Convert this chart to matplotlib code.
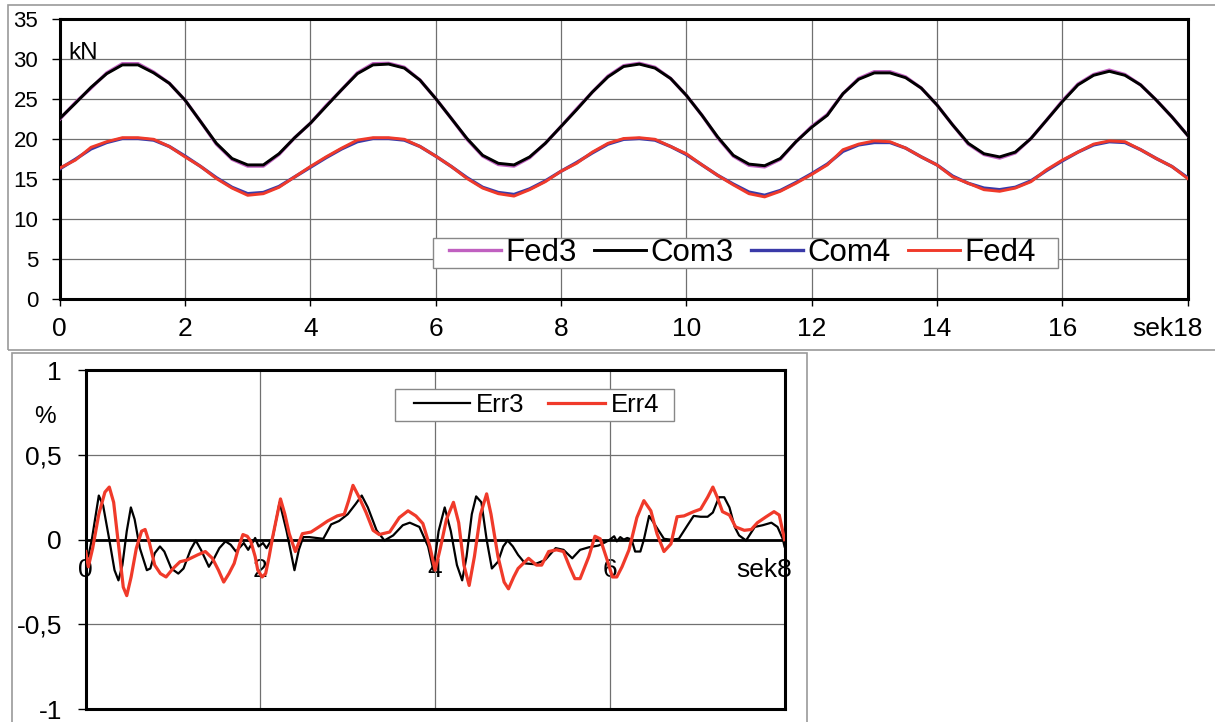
import matplotlib
matplotlib.use("Agg")
import matplotlib.pyplot as plt
from matplotlib.patches import Rectangle
from matplotlib.transforms import ScaledTranslation

plt.rcParams['font.family'] = ['Liberation Sans', 'DejaVu Sans']

# ---------------- data: top chart (kN vs s) ----------------
t_top = [i * 0.25 for i in range(73)]
com3 = [22.6, 24.5, 26.5, 28.2, 29.3, 29.3, 28.3, 27.0, 24.9, 22.2, 19.5, 17.6, 16.8, 16.8,
        18.2, 20.2, 22.0, 24.1, 26.2, 28.2, 29.3, 29.4, 28.9, 27.4, 25.1, 22.6, 20.1, 18.0,
        17.0, 16.8, 17.8, 19.5, 21.6, 23.7, 25.9, 27.8, 29.1, 29.4, 28.9, 27.6, 25.5, 23.0,
        20.3, 18.0, 16.9, 16.7, 17.6, 19.7, 21.5, 23.0, 25.7, 27.5, 28.3, 28.3, 27.7, 26.4,
        24.3, 21.8, 19.5, 18.2, 17.8, 18.4, 20.1, 22.4, 24.7, 26.8, 28.0, 28.5, 28.0, 26.8,
        24.9, 22.8, 20.5]
fed3 = [22.5, 24.6, 26.4, 28.3, 29.45, 29.45, 28.4, 27.0, 24.9, 22.2, 19.4, 17.5, 16.65, 16.65,
        18.1, 20.2, 22.0, 24.2, 26.2, 28.3, 29.45, 29.5, 29.0, 27.4, 25.1, 22.6, 20.0, 17.9,
        16.85, 16.65, 17.7, 19.5, 21.6, 23.8, 25.9, 27.9, 29.2, 29.5, 29.0, 27.6, 25.5, 23.0,
        20.2, 17.9, 16.75, 16.55, 17.5, 19.7, 21.6, 23.1, 25.7, 27.6, 28.45, 28.45, 27.8, 26.4,
        24.3, 21.8, 19.4, 18.1, 17.65, 18.3, 20.1, 22.4, 24.8, 26.9, 28.1, 28.65, 28.1, 26.8,
        24.9, 22.8, 20.5]
com4 = [16.3, 17.5, 18.8, 19.6, 20.1, 20.1, 19.9, 19.1, 17.9, 16.6, 15.2, 14.0, 13.2, 13.35,
        14.1, 15.3, 16.5, 17.7, 18.8, 19.7, 20.1, 20.1, 19.9, 19.1, 17.9, 16.6, 15.2, 14.0,
        13.35, 13.1, 13.8, 14.8, 16.0, 17.1, 18.3, 19.4, 20.0, 20.1, 19.9, 19.1, 18.1, 16.8,
        15.5, 14.4, 13.4, 13.0, 13.6, 14.6, 15.7, 16.9, 18.5, 19.3, 19.6, 19.6, 18.9, 17.8,
        16.8, 15.4, 14.5, 13.9, 13.7, 14.0, 14.8, 16.1, 17.3, 18.4, 19.3, 19.7, 19.6, 18.7,
        17.6, 16.6, 15.2]
fed4 = [16.4, 17.4, 19.0, 19.7, 20.2, 20.2, 20.0, 19.1, 17.8, 16.6, 15.1, 13.9, 13.0, 13.2,
        14.0, 15.3, 16.6, 17.8, 18.9, 19.9, 20.2, 20.2, 20.0, 19.1, 17.9, 16.6, 15.1, 13.9,
        13.2, 12.9, 13.7, 14.7, 16.0, 17.0, 18.4, 19.5, 20.1, 20.2, 20.0, 19.1, 18.2, 16.8,
        15.5, 14.3, 13.2, 12.8, 13.5, 14.5, 15.6, 16.8, 18.7, 19.4, 19.8, 19.7, 18.9, 17.8,
        16.8, 15.3, 14.5, 13.7, 13.5, 13.9, 14.7, 16.2, 17.4, 18.4, 19.4, 19.8, 19.7, 18.7,
        17.6, 16.6, 15.1]
top_xticks = [0, 2, 4, 6, 8, 10, 12, 14, 16, 18]
top_xlabels = ["0", "2", "4", "6", "8", "10", "12", "14", "16", "sek18"]
top_yticks = [0, 5, 10, 15, 20, 25, 30, 35]
top_labels = ["Fed3", "Com3", "Com4", "Fed4"]

# ---------------- data: bottom chart (% error vs s) ----------------
t_err3 = [0.00, 0.03, 0.07, 0.15, 0.20, 0.27, 0.33, 0.375, 0.42, 0.47, 0.517, 0.56, 0.62, 0.70,
          0.74, 0.79, 0.85, 0.90, 0.98, 1.06, 1.12, 1.20, 1.26, 1.32, 1.41, 1.46, 1.53, 1.60,
          1.66, 1.72, 1.81, 1.86, 1.94, 1.98, 2.03, 2.07, 2.14, 2.22, 2.30, 2.39, 2.44, 2.49,
          2.56, 2.64, 2.72, 2.81, 2.90, 3.00, 3.09, 3.16, 3.23, 3.33, 3.42, 3.52, 3.63, 3.71,
          3.82, 3.92, 3.98, 4.04, 4.11, 4.18, 4.25, 4.31, 4.36, 4.42, 4.47, 4.53, 4.59, 4.65,
          4.72, 4.78, 4.83, 4.89, 4.95, 5.03, 5.14, 5.26, 5.38, 5.47, 5.57, 5.66, 5.76, 5.87,
          5.95, 6.00, 6.05, 6.08, 6.12, 6.16, 6.20, 6.25, 6.29, 6.35, 6.39, 6.45, 6.52, 6.62,
          6.70, 6.79, 6.89, 6.96, 7.04, 7.12, 7.18, 7.25, 7.31, 7.37, 7.43, 7.48, 7.56, 7.66,
          7.75, 7.85, 7.92, 7.98, 8.00]
err3 = [-0.06, -0.10, 0.00, 0.26, 0.20, 0.00, -0.18, -0.24, -0.15, 0.05, 0.19, 0.12, -0.05, -0.18,
        -0.17, -0.08, -0.04, -0.07, -0.17, -0.20, -0.17, -0.06, -0.005, -0.06, -0.16, -0.12, -0.05, -0.01,
        -0.03, -0.07, -0.02, -0.06, 0.01, -0.04, -0.02, -0.05, 0.01, 0.22, 0.05, -0.18, -0.06, 0.015,
        0.015, 0.01, 0.005, 0.09, 0.11, 0.15, 0.21, 0.26, 0.19, 0.055, -0.005, 0.025, 0.085, 0.10,
        0.075, -0.04, -0.18, 0.05, 0.19, 0.05, -0.15, -0.24, -0.10, 0.15, 0.255, 0.22, 0.00, -0.17,
        -0.13, -0.04, -0.005, -0.04, -0.09, -0.14, -0.145, -0.12, -0.05, -0.06, -0.11, -0.06, -0.045, -0.035,
        -0.015, 0.00, 0.02, -0.01, 0.015, 0.00, 0.01, 0.00, -0.07, -0.07, 0.00, 0.14, 0.085, 0.005,
        0.00, 0.005, 0.085, 0.14, 0.135, 0.135, 0.16, 0.25, 0.25, 0.19, 0.075, 0.025, -0.005, 0.075,
        0.085, 0.10, 0.075, 0.005, -0.04]
t_err4 = [0.00, 0.03, 0.08, 0.15, 0.22, 0.27, 0.32, 0.38, 0.43, 0.47, 0.52, 0.58, 0.64, 0.68,
          0.73, 0.79, 0.855, 0.92, 1.00, 1.08, 1.16, 1.28, 1.37, 1.45, 1.52, 1.58, 1.64, 1.70,
          1.76, 1.80, 1.85, 1.89, 1.94, 1.97, 2.02, 2.06, 2.10, 2.14, 2.23, 2.28, 2.33, 2.40,
          2.48, 2.58, 2.67, 2.77, 2.88, 2.96, 3.01, 3.06, 3.13, 3.21, 3.29, 3.36, 3.48, 3.59,
          3.69, 3.78, 3.86, 3.94, 4.00, 4.06, 4.13, 4.21, 4.27, 4.33, 4.39, 4.45, 4.52, 4.59,
          4.64, 4.72, 4.79, 4.84, 4.90, 4.95, 5.07, 5.16, 5.22, 5.30, 5.39, 5.47, 5.54, 5.60,
          5.66, 5.76, 5.83, 5.89, 5.97, 6.03, 6.08, 6.14, 6.22, 6.31, 6.39, 6.47, 6.54, 6.62,
          6.70, 6.77, 6.85, 6.96, 7.04, 7.12, 7.18, 7.23, 7.29, 7.37, 7.44, 7.54, 7.62, 7.69,
          7.79, 7.88, 7.94, 8.00]
err4 = [-0.07, -0.16, -0.05, 0.15, 0.28, 0.31, 0.22, -0.05, -0.28, -0.33, -0.22, -0.05, 0.05, 0.06,
        -0.02, -0.15, -0.20, -0.22, -0.17, -0.13, -0.12, -0.09, -0.07, -0.11, -0.18, -0.25, -0.20, -0.14,
        -0.03, 0.03, 0.02, -0.01, -0.10, -0.18, -0.22, -0.20, -0.10, 0.015, 0.24, 0.15, 0.035, -0.07,
        0.035, 0.045, 0.075, 0.11, 0.14, 0.15, 0.23, 0.32, 0.25, 0.16, 0.055, 0.03, 0.045, 0.13,
        0.17, 0.14, 0.095, -0.04, -0.18, -0.05, 0.12, 0.22, 0.10, -0.15, -0.27, -0.10, 0.15, 0.27,
        0.15, -0.10, -0.25, -0.29, -0.22, -0.17, -0.11, -0.15, -0.15, -0.07, -0.06, -0.07, -0.16, -0.23,
        -0.23, -0.10, 0.02, 0.005, -0.12, -0.22, -0.22, -0.16, -0.06, 0.13, 0.23, 0.17, 0.035, -0.07,
        -0.025, 0.135, 0.14, 0.165, 0.18, 0.25, 0.31, 0.25, 0.165, 0.145, 0.075, 0.055, 0.06, 0.10,
        0.135, 0.165, 0.145, 0.00]
bot_xticks = [0, 2, 4, 6, 8]
bot_xlabels = ["0", "2", "4", "6", "sek8"]
bot_yticks = [-1, -0.5, 0, 0.5, 1]
bot_ylabels = ["-1", "-0,5", "0", "0,5", "1"]
bot_labels = ["Err3", "Err4"]

# ---------------- styles ----------------
W, H = 1215, 722
fig = plt.figure(figsize=(W / 100, H / 100), dpi=100)
fig.patch.set_facecolor('white')

C_MAG = '#c060c0'
C_BLK = '#000000'
C_BLU = '#3a3aa8'
C_RED = '#f03a2a'
GRID = '#707070'


def px_rect(x0, y0, x1, y1):
    return [x0 / W, 1 - y1 / H, (x1 - x0) / W, (y1 - y0) / H]


def px_box(ax, x0, y0, x1, y1):
    # white framed box behind a legend, given in figure pixels
    r = Rectangle((x0 / W, 1 - y1 / H), (x1 - x0) / W, (y1 - y0) / H,
                  transform=fig.transFigure, facecolor='white', edgecolor='#888888',
                  lw=1.0, zorder=9, clip_on=False)
    ax.add_patch(r)


# outer frames
fig.patches.append(Rectangle((8 / W, 1 - 349.5 / H), (1230 - 8) / W, (349.5 - 5) / H,
                             transform=fig.transFigure, fill=False, edgecolor='#9a9a9a',
                             lw=1.2, clip_on=False))
fig.patches.append(Rectangle((12 / W, 1 - 740 / H), (807 - 12) / W, (740 - 353) / H,
                             transform=fig.transFigure, fill=False, edgecolor='#9a9a9a',
                             lw=1.2, clip_on=False))

# ---------------- top chart ----------------
ax1 = fig.add_axes(px_rect(59.7, 19.3, 1187.6, 299.3))
ax1.plot(t_top, fed3, color=C_MAG, lw=2.4, label=top_labels[0], zorder=3)
ax1.plot(t_top, com3, color=C_BLK, lw=2.1, label=top_labels[1], zorder=4)
ax1.plot(t_top, com4, color=C_BLU, lw=2.4, label=top_labels[2], zorder=5)
ax1.plot(t_top, fed4, color=C_RED, lw=2.1, label=top_labels[3], zorder=6)
ax1.set_xlim(0, 18)
ax1.set_ylim(0, 35)
ax1.set_xticks(top_xticks)
ax1.set_xticklabels(top_xlabels, fontsize=19)
ax1.set_yticks(top_yticks)
ax1.set_yticklabels([str(v) for v in top_yticks], fontsize=16)
ax1.tick_params(axis='x', direction='out', length=5, width=1, pad=8)
ax1.tick_params(axis='y', direction='out', length=5.5, width=1, pad=10)
ax1.grid(True, color=GRID, lw=0.9)
ax1.set_axisbelow(True)
for s in ax1.spines.values():
    s.set_linewidth(2.2)
    s.set_color('black')
lab = ax1.get_xticklabels()[-1]
lab.set_horizontalalignment('right')
lab.set_transform(lab.get_transform() + ScaledTranslation(0.146, 0, fig.dpi_scale_trans))
ax1.text(0.0074, 0.858, "kN", transform=ax1.transAxes, fontsize=17.5, ha='left', va='baseline')
px_box(ax1, 433, 237.7, 1058, 267.7)
leg1 = ax1.legend(loc='center', bbox_to_anchor=((742.5 - 59.7) / 1127.9, (299.3 - 252.7) / 280),
                  ncol=4, fontsize=22.5, frameon=False,
                  borderpad=0.0, handlelength=1.66, handletextpad=0.15, columnspacing=0.55,
                  borderaxespad=0)
leg1.set_zorder(10)

# ---------------- bottom chart ----------------
ax2 = fig.add_axes(px_rect(85.7, 370.0, 784.5, 709.3))
ax2.plot(t_err3, err3, color=C_BLK, lw=1.6, label=bot_labels[0], zorder=4)
ax2.plot(t_err4, err4, color=C_RED, lw=2.3, label=bot_labels[1], zorder=5)
ax2.axhline(0, color='black', lw=2.0, zorder=3)
ax2.set_xlim(0, 8)
ax2.set_ylim(-1, 1)
ax2.set_xticks(bot_xticks)
ax2.tick_params(axis='x', length=0, labelbottom=False)
ax2.set_yticks(bot_yticks)
ax2.set_yticklabels(bot_ylabels, fontsize=19)
ax2.tick_params(axis='y', direction='out', length=6, width=1, pad=11)
ax2.grid(True, color=GRID, lw=0.9)
ax2.set_axisbelow(True)
for s in ax2.spines.values():
    s.set_linewidth(2.2)
    s.set_color('black')
sec = ax2.secondary_xaxis(0.5)
sec.set_alignment('bottom')
sec.set_xticks(bot_xticks)
sec.set_xticklabels(bot_xlabels, fontsize=19)
sec.tick_params(axis='x', length=0, pad=13)
for s in sec.spines.values():
    s.set_visible(False)
lab2 = sec.get_xticklabels()[-1]
lab2.set_horizontalalignment('right')
lab2.set_transform(lab2.get_transform() + ScaledTranslation(0.073, 0, fig.dpi_scale_trans))
ax2.text(-0.058, 0.861, "%", transform=ax2.transAxes, fontsize=17.5, ha='center', va='center')
px_box(ax2, 395, 389, 674, 421)
leg2 = ax2.legend(loc='center', bbox_to_anchor=((536.5 - 85.7) / 698.8, (709.3 - 405) / 339.3),
                  ncol=2, fontsize=18.5, frameon=False,
                  borderpad=0.0, handlelength=2.2, handletextpad=0.23, columnspacing=0.93,
                  borderaxespad=0)
leg2.set_zorder(10)

fig.savefig("out.png", dpi=100, facecolor='white')
